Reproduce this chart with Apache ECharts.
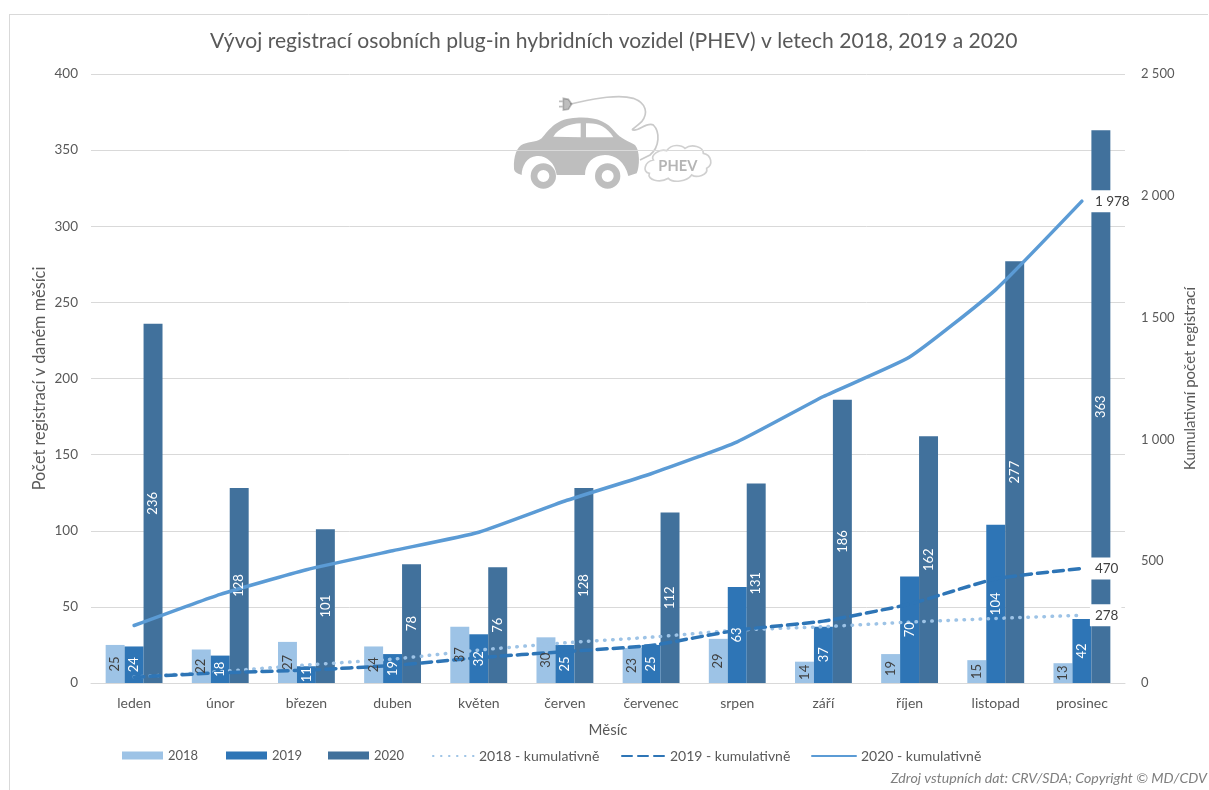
<!DOCTYPE html>
<html><head><meta charset="utf-8">
<style>html,body{margin:0;padding:0;background:#fff}#c{width:1209px;height:790px}</style>
<script src="https://cdn.jsdelivr.net/npm/echarts@6/dist/echarts.min.js"></script>
</head><body><div id="c"></div>
<script>
const months=['leden','únor','březen','duben','květen','červen','červenec','srpen','září','říjen','listopad','prosinec'];
const bars2018=[25,22,27,24,37,30,23,29,14,19,15,13];
const bars2019=[24,18,11,19,32,25,25,63,37,70,104,42];
const bars2020=[236,128,101,78,76,128,112,131,186,162,277,363];
const cum2018=[25,47,74,98,135,165,188,217,231,250,265,278];
const cum2019=[24,42,53,72,104,129,154,217,254,324,428,470];
const cum2020=[236,364,465,543,619,747,859,990,1176,1338,1615,1978];
const titleText='Vývoj registrací osobních plug-in hybridních vozidel (PHEV) v letech 2018, 2019 a 2020';
const sourceText='Zdroj vstupních dat: CRV/SDA; Copyright © MD/CDV';
const FONT='Lato';
const TXT='#595959';
const fmt=v=>String(v).replace(/\B(?=(\d{3})+$)/g,' ');
const reg=(n,d)=>echarts.graphic.registerShape(n,echarts.graphic.extendPath(d));
reg('logoBody','M72 265C70 230 80 200 100 192C120 185 145 185 155 175C180 145 200 115 260 113C320 110 350 125 375 155C390 175 420 185 435 195C450 210 450 260 440 280L415 288C405 245 375 225 345 225C310 225 285 250 285 285L200 285C195 245 165 225 140 228C110 230 95 260 95 285C80 280 72 275 72 265Z M190 170L272 172L272 130C240 130 205 145 190 170Z M288 172L370 172C350 140 325 128 288 130Z');
reg('logoCord','M240 72C300 60 380 40 430 55C470 70 475 100 455 125C440 140 420 150 430 150C445 155 470 125 490 135C510 155 510 200 480 225L450 240');
reg('logoPlug','M220 55L235 58L245 72L235 88L220 90Z M207 64L222 64 M207 80L222 80');
reg('logoCloud','M490 240C480 225 510 205 530 212C545 190 575 195 585 205C605 190 640 200 640 220C665 225 670 255 650 265C655 285 620 295 605 285C590 305 550 310 535 295C510 310 470 300 478 280C455 275 465 245 490 240Z');
function barS(name,data,color){
  return {name,type:'bar',yAxisIndex:0,data,barGap:0,barCategoryGap:'34%',z:2,itemStyle:{color}};
}
function labelS(name,data,slot,color){
  return {name,type:'custom',yAxisIndex:0,z:6,silent:true,clip:false,
    data:data.map((v,i)=>[i,v]),
    encode:{x:0,y:1},
    renderItem:(params,api)=>{
      const p=api.coord([api.value(0),api.value(1)/2]);
      const band=api.size([1,0])[0];
      return {type:'text',x:p[0]+slot*band*0.22,y:p[1],rotation:Math.PI/2,
        style:{text:String(api.value(1)),fill:color,font:'13px '+FONT,align:'center',verticalAlign:'middle'}};
    }};
}
function lineS(name,data,color,type){
  return {name,type:'line',yAxisIndex:1,data,smooth:0.15,showSymbol:false,symbol:'none',z:4,clip:false,
    lineStyle:{color,width:3.5,type,cap:'round'},itemStyle:{color},
    endLabel:{show:true,formatter:p=>fmt(p.value),color:'#404040',fontFamily:FONT,fontSize:13.5,
      backgroundColor:'#fff',padding:[4,3,4,5],distance:8}};
}
const legendAt=[[122,'2018','rect',41],[226,'2019','rect',41],[328,'2020','rect',41],
  [432,'2018 - kumulativně',null,41],[621,'2019 - kumulativně',null,43],[811,'2020 - kumulativně',null,44]];
const chart=echarts.init(document.getElementById('c'),null,{renderer:'canvas'});
chart.setOption({
  animation:false,
  backgroundColor:'#fff',
  title:[
    {text:titleText,left:205,top:26,textStyle:{fontFamily:FONT,fontSize:21.1,fontWeight:'normal',color:TXT}},
    {text:sourceText,right:-3,top:766,textStyle:{fontFamily:FONT,fontSize:14.2,fontStyle:'italic',fontWeight:'normal',color:'#7f7f7f'}}
  ],
  grid:{left:91,right:84,top:74,bottom:107,containLabel:false,outerBoundsMode:'none'},
  legend:legendAt.map(([x,name,icon,w])=>({left:x-5,top:744,itemWidth:w,itemHeight:8,itemGap:5,
    textStyle:{fontFamily:FONT,fontSize:icon?13:14,color:TXT},
    data:[icon?{name,icon}:{name,itemStyle:{opacity:0}}]})),
  xAxis:{type:'category',data:months,name:'Měsíc',nameLocation:'middle',nameGap:40,
    nameTextStyle:{fontFamily:FONT,fontSize:15,color:TXT},
    axisTick:{show:false},axisLine:{lineStyle:{color:'#d9d9d9',width:1}},
    axisLabel:{fontFamily:FONT,fontSize:14,color:TXT,margin:13,interval:0},splitLine:{show:false}},
  yAxis:[
    {type:'value',min:0,max:400,interval:50,name:'Počet registrací v daném měsíci',nameLocation:'middle',nameGap:43,nameRotate:90,nameMoveOverlap:false,
     nameTextStyle:{fontFamily:FONT,fontSize:16.3,color:TXT},
     axisLine:{show:false},axisTick:{show:false},
     axisLabel:{fontFamily:FONT,fontSize:13.5,color:TXT,margin:13},
     splitLine:{show:true,lineStyle:{color:'#d9d9d9',width:1}}},
    {type:'value',min:0,max:2500,interval:500,name:'Kumulativní počet registrací',nameLocation:'middle',nameGap:58,nameRotate:90,nameMoveOverlap:false,
     nameTextStyle:{fontFamily:FONT,fontSize:15,color:TXT},
     axisLine:{show:false},axisTick:{show:false},
     axisLabel:{fontFamily:FONT,fontSize:13,color:TXT,margin:16,formatter:v=>fmt(v)},
     splitLine:{show:false}}
  ],
  graphic:[
    {type:'line',silent:true,shape:{x1:9.5,y1:14,x2:9.5,y2:790},style:{stroke:'#d9d9d9',lineWidth:1}},
    {type:'line',silent:true,shape:{x1:9,y1:14.5,x2:1208,y2:14.5},style:{stroke:'#d9d9d9',lineWidth:1}},
    {type:'group',x:490,y:80,scaleX:1/3,scaleY:1/3,silent:true,children:[
      {type:'logoBody',style:{fill:'rgba(100,100,100,0.42)',fillRule:'evenodd'}},
      {type:'circle',shape:{cx:160,cy:288,r:28},style:{fill:'none',stroke:'rgba(100,100,100,0.42)',lineWidth:20}},
      {type:'circle',shape:{cx:353,cy:288,r:28},style:{fill:'none',stroke:'rgba(100,100,100,0.42)',lineWidth:20}},
      {type:'logoCord',style:{fill:'none',stroke:'rgba(120,120,120,0.4)',lineWidth:5}},
      {type:'logoPlug',style:{fill:'rgba(100,100,100,0.42)',stroke:'rgba(100,100,100,0.42)',lineWidth:5}},
      {type:'logoCloud',style:{fill:'#fff',stroke:'rgba(120,120,120,0.35)',lineWidth:5}},
      {type:'text',style:{x:505,y:238,text:'PHEV',fontFamily:FONT,fontSize:44,fontWeight:'bold',fill:'#b5b5b5'}}
    ]}
  ],
  series:[
    barS('2018',bars2018,'#9dc3e6'),
    barS('2019',bars2019,'#2e75b6'),
    barS('2020',bars2020,'#41719c'),
    lineS('2018 - kumulativně',cum2018,'#9dc3e6',[0.5,7.5]),
    lineS('2019 - kumulativně',cum2019,'#2e75b6',[10,6]),
    lineS('2020 - kumulativně',cum2020,'#5b9bd5','solid'),
    labelS('popisky 2018',bars2018,-1,'#404040'),
    labelS('popisky 2019',bars2019,0,'#fff'),
    labelS('popisky 2020',bars2020,1,'#fff')
  ]
});
</script></body></html>
